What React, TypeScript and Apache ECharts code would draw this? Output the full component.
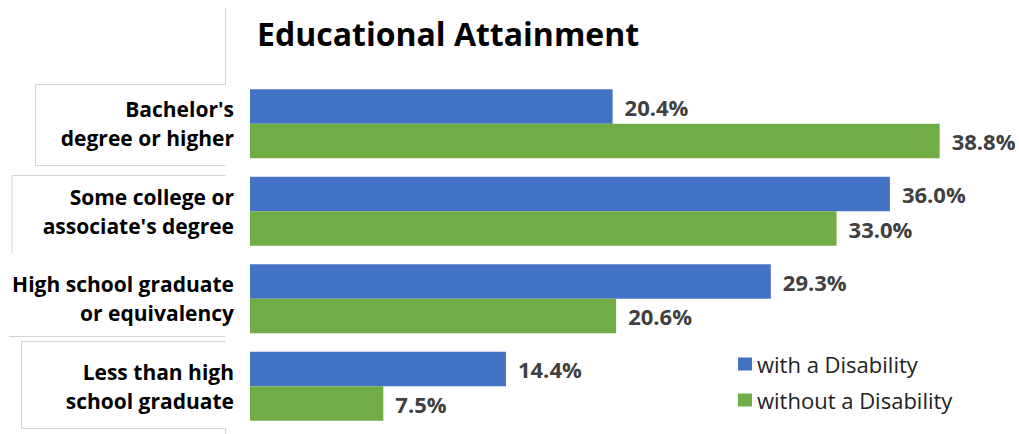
import React, { useEffect, useRef } from "react";
import * as echarts from "echarts";

const categories = [
  "Bachelor's\ndegree or higher",
  "Some college or\nassociate's degree",
  "High school graduate\nor equivalency",
  "Less than high\nschool graduate",
];
const withDisability = [20.4, 36.0, 29.3, 14.4];
const withoutDisability = [38.8, 33.0, 20.6, 7.5];
const seriesNames = ["with a Disability", "without a Disability"];

const FONT = "'Open Sans', 'Noto Sans', sans-serif";

export default function App() {
  const ref = useRef<HTMLDivElement>(null);
  useEffect(() => {
    document.body.style.margin = "0";
    if (!ref.current) return;
    const chart = echarts.init(ref.current, undefined, { renderer: "svg" });
    const grey = "#d4d4d4";
    const line = (x1: number, y1: number, x2: number, y2: number) => ({
      type: "line",
      shape: { x1, y1, x2, y2 },
      style: { stroke: grey, lineWidth: 1 },
      silent: true,
    });
    const labelStyle = {
      show: true,
      position: "right",
      distance: 12,
      formatter: (p: any) => p.value.toFixed(1) + "%",
      fontFamily: FONT,
      fontWeight: "bold",
      fontSize: 22,
      color: "#404040",
    };
    chart.setOption({
      animation: false,
      title: {
        text: "Educational Attainment",
        left: 252,
        top: 12,
        textStyle: { fontFamily: FONT, fontWeight: "bold", fontSize: 32, color: "#000" },
      },
      legend: {
        orient: "vertical",
        left: 733,
        top: 348,
        itemWidth: 14,
        itemHeight: 13,
        itemGap: 14,
        icon: "rect",
        textStyle: { fontFamily: FONT, fontSize: 22, color: "#222" },
        data: seriesNames,
      },
      grid: { left: 250, top: 80, width: 711, height: 350, containLabel: false },
      xAxis: {
        type: "value",
        min: 0,
        max: 40,
        show: false,
      },
      yAxis: {
        type: "category",
        inverse: true,
        data: categories,
        axisLine: { show: false },
        axisTick: { show: false },
        axisLabel: {
          margin: 16,
          align: "right",
          fontFamily: FONT,
          fontWeight: "bold",
          fontSize: 21,
          lineHeight: 29,
          color: "#000",
        },
      },
      series: [
        {
          name: seriesNames[0],
          type: "bar",
          data: withDisability,
          barWidth: 34.5,
          barGap: "0%",
          itemStyle: { color: "#4472c4" },
          label: labelStyle,
        },
        {
          name: seriesNames[1],
          type: "bar",
          data: withoutDisability,
          barWidth: 34.5,
          barGap: "0%",
          itemStyle: { color: "#70ad47" },
          label: labelStyle,
        },
      ],
      graphic: [
        line(225.5, 8, 225.5, 84.5),
        line(35.5, 84.5, 225.5, 84.5),
        line(35.5, 84.5, 35.5, 165.5),
        line(35.5, 165.5, 225.5, 165.5),
        line(12, 175.5, 225.5, 175.5),
        line(12, 175.5, 12, 253),
        line(9, 336.5, 225.5, 336.5),
        line(21.5, 341.5, 225.5, 341.5),
        line(21.5, 341.5, 21.5, 428.5),
        line(21.5, 428.5, 225.5, 428.5),
        line(225.5, 428.5, 225.5, 434),
      ],
    });
    return () => chart.dispose();
  }, []);
  return <div ref={ref} style={{ width: 1019, height: 434 }} />;
}
